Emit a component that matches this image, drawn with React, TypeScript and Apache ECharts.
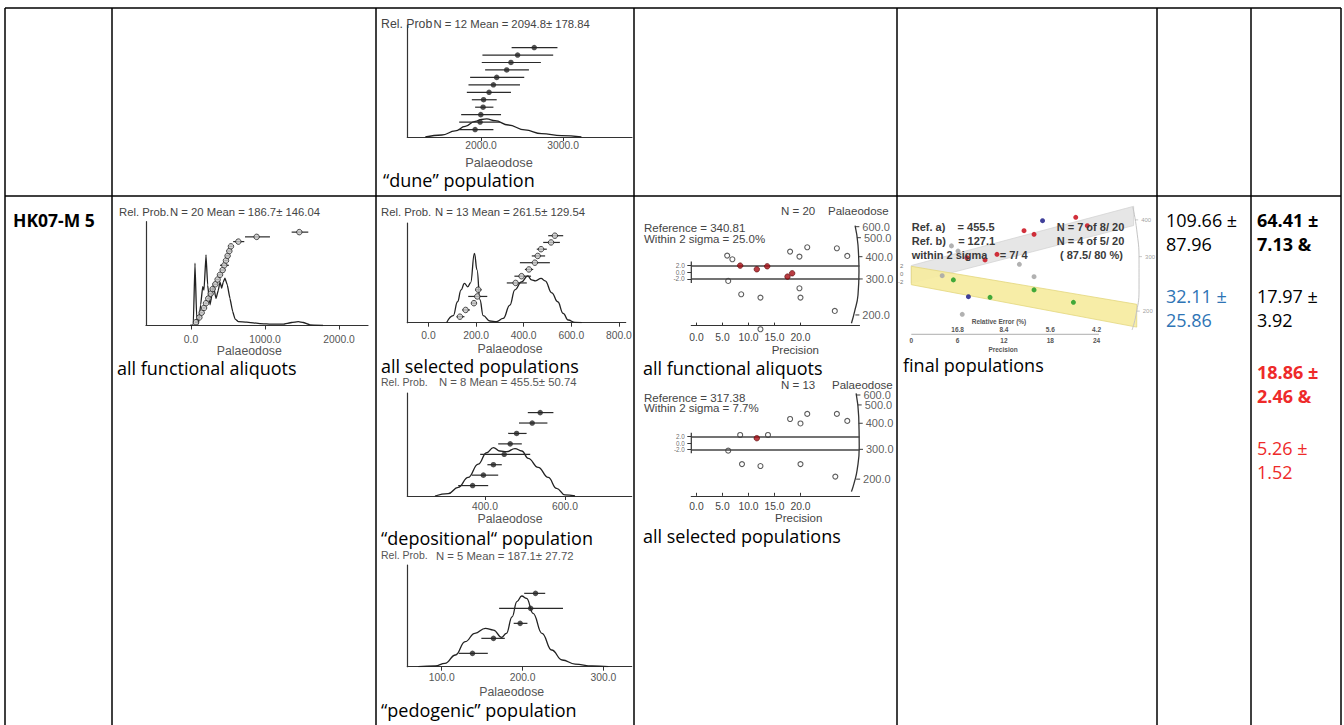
import React, { useEffect, useRef } from "react";
import * as echarts from "echarts";

const SANS = '"Liberation Sans", Arial, Helvetica, sans-serif';
const BODY = '"Open Sans", "Noto Sans", sans-serif';

// ===== A: "dune" population (N = 12) =====
const duneKdeDose = [1320, 1522, 1684, 1806, 1927, 2008, 2069, 2170, 2332, 2534, 2737, 2980, 3223];
const duneKdeProb = [0, 0.018, 0.054, 0.095, 0.14, 0.158, 0.161, 0.146, 0.107, 0.063, 0.03, 0.012, 0];
const duneDose = [1927, 1988, 1996, 2024, 2030, 2097, 2150, 2190, 2312, 2364, 2445, 2648];
const duneLow = [1725, 1733, 1757, 1927, 1887, 1826, 1846, 1866, 2049, 2008, 2016, 2372];
const duneHigh = [2150, 2231, 2243, 2150, 2190, 2364, 2474, 2526, 2583, 2729, 2879, 2931];
const duneTicks = [2000, 3000];

// ===== B: all functional aliquots (N = 20) =====
const funcKdeDose = [-13, 31, 54, 77, 99, 131, 158, 176, 203, 225, 257, 279, 302, 338, 369, 392, 414, 437, 459, 491, 527, 563, 594, 640, 752, 932, 1112, 1247, 1360, 1450, 1517, 1608, 1784];
const funcKdeProb = [0, 0.006, 0.6, 0.07, 0.013, 0.2, 0.375, 0.34, 0.68, 0.39, 0.2, 0.28, 0.39, 0.26, 0.34, 0.42, 0.36, 0.42, 0.455, 0.39, 0.26, 0.135, 0.064, 0.038, 0.032, 0.019, 0.013, 0.013, 0.029, 0.038, 0.029, 0.006, 0];
const funcDose = [68, 113, 144, 176, 203, 234, 266, 293, 329, 360, 392, 428, 450, 473, 495, 518, 540, 640, 887, 1464];
const funcLow = [52, 98, 128, 158, 185, 214, 246, 271, 306, 336, 367, 403, 392, 450, 472, 494, 516, 570, 730, 1360];
const funcHigh = [84, 128, 160, 194, 221, 254, 286, 315, 352, 384, 417, 453, 512, 496, 518, 542, 564, 720, 1067, 1585];
const funcTicks = [0, 1000, 2000];

// ===== C: all selected populations (N = 13) =====
const selKdeDose = [76, 104, 122, 137, 151, 165, 177, 193, 204, 216, 230, 258, 286, 314, 342, 363, 391, 417, 433, 450, 473, 490, 518, 543, 566, 587, 615, 644];
const selKdeProb = [0, 0.07, 0.21, 0.33, 0.395, 0.36, 0.4, 0.696, 0.53, 0.23, 0.07, 0.017, 0.01, 0.043, 0.177, 0.33, 0.41, 0.47, 0.43, 0.42, 0.445, 0.42, 0.3, 0.21, 0.094, 0.027, 0.003, 0];
const selDose = [132, 156, 191, 205, 209, 366, 391, 422, 447, 459, 473, 515, 531];
const selLow = [118, 142, 181, 167, 198, 329, 361, 405, 384, 434, 455, 482, 503];
const selHigh = [151, 174, 201, 247, 223, 413, 431, 440, 510, 490, 497, 552, 566];
const selTicks = [0, 200, 400, 600, 800];

// ===== D: "depositional" population (N = 8) =====
const depKdeDose = [275, 308, 333, 358, 383, 404, 421, 437, 454, 475, 492, 508, 533, 558, 579, 600, 625];
const depKdeProb = [0, 0.023, 0.084, 0.18, 0.31, 0.42, 0.47, 0.437, 0.43, 0.46, 0.437, 0.366, 0.278, 0.18, 0.074, 0.01, 0];
const depDose = [369, 396, 421, 448, 463, 479, 518, 538];
const depLow = [333, 367, 406, 388, 433, 458, 485, 507];
const depHigh = [408, 433, 442, 513, 492, 504, 556, 571];
const depTicks = [400, 600];

// ===== E: "pedogenic" population (N = 5) =====
const pedKdeDose = [71, 92, 104, 117, 129, 141, 154, 164, 174, 180, 187, 193, 199, 205, 213, 224, 236, 249, 265, 286, 306];
const pedKdeProb = [0, 0.007, 0.033, 0.115, 0.246, 0.328, 0.377, 0.36, 0.289, 0.328, 0.49, 0.64, 0.695, 0.672, 0.525, 0.328, 0.164, 0.066, 0.026, 0.007, 0];
const pedDose = [138, 164, 197, 210, 216];
const pedLow = [121, 149, 189, 171, 202];
const pedHigh = [157, 178, 206, 250, 228];
const pedTicks = [100, 200, 300];

// ===== F: radial plot, all functional aliquots (precision, standardised estimate) =====
const rad1OpenX = [5.9, 6.9, 18.0, 19.8, 21.3, 27.0, 29.0, 6.1, 8.6, 12.3, 19.8, 20.0, 26.6, 12.3];
const rad1OpenY = [5.0, 3.9, 6.2, 4.7, 7.5, 7.2, 4.9, -2.6, -6.6, -7.6, -4.8, -7.6, -11.6, -17.1];
const rad1RedX = [8.4, 11.6, 13.6, 17.5, 18.4];
const rad1RedY = [2.0, 0.9, 1.8, -1.3, -0.3];
const rad1ArcX = [30.5, 31.06, 31.25, 31.06, 30.4, 29.8];
const rad1ArcY = [14.0, 8.2, 0.2, -6.8, -11.8, -15.3];
const rad1ArcLabels = ["600.0", "500.0", "400.0", "300.0", "200.0"];
const rad1ArcTickX = [30.55, 30.85, 31.15, 31.2, 30.55];
const rad1ArcTickY = [13.7, 10.4, 4.7, -2.0, -12.8];

// ===== G: radial plot, all selected populations =====
const rad2OpenX = [8.4, 13.75, 18.0, 20.0, 21.3, 27.0, 29.0, 6.1, 8.75, 12.3, 20.0, 26.7];
const rad2OpenY = [2.5, 2.5, 7.5, 6.1, 9.1, 9.1, 6.9, -2.4, -6.6, -7.2, -6.6, -10.5];
const rad2RedX = [11.6];
const rad2RedY = [1.5];
const rad2ArcX = [30.7, 31.2, 31.3, 30.9, 30.3, 29.8];
const rad2ArcY = [15.5, 8.2, -1.2, -8.4, -12.6, -15.2];
const rad2ArcLabels = ["600.0", "500.0", "400.0", "300.0", "200.0"];
const rad2ArcTickX = [30.75, 31.0, 31.2, 31.25, 30.7];
const rad2ArcTickY = [15.0, 11.9, 6.15, -2.0, -11.3];

const radTicks = [0, 5, 10, 15, 20];
const radBand = [-2, 0, 2];
const radAxisSpan = [3.2, -3.2];

// ===== H: final populations radial plot =====
const finRedX = [21.3, 22.8, 14.6, 15.9, 11.1, 9.55, 7.2];
const finRedY = [14.25, 12.15, 10.9, 10.0, 5.0, 3.6, 4.15];
const finBlueX = [17.0, 7.4];
const finBlueY = [13.4, -5.6];
const finGreenX = [5.45, 10.2, 15.9, 21.0];
const finGreenY = [-1.4, -5.75, -3.9, -7.0];
const finGrayX = [5.2, 6.05, 4.0, 14.0, 15.9, 6.6];
const finGrayY = [7.1, 5.8, -0.35, 2.5, -0.6, -10.0];
const finGrayBandX = [0, 28.8, 28.8, 0];
const finGrayBandY = [2.2, 17.0, 12.2, -2.2];
const finYellowBandX = [0, 29.2, 29.2, 0];
const finYellowBandY = [2.0, -7.5, -13.2, -2.6];
const finArcX = [28.7, 29.2, 29.5, 29.5, 29.1, 28.6];
const finArcY = [16.8, 11.1, 3.6, -3.9, -10.2, -13.9];
const finArcLabels = ["400", "300", "200"];
const finArcTickX = [29.0, 29.5, 29.2];
const finArcTickY = [13.6, 4.4, -9.2];
const finPrecisionTicks = [0, 6, 12, 18, 24];
const finRelErrTicks = [6, 12, 18, 24];
const finRelErrLabels = ["16.8", "8.4", "5.6", "4.2"];
const finYTicks = [-2, 0, 2];
const finAxisSpan = [0, 24.3];

// ===== layout (pixel boxes of the small plots) =====
const kdeLayout = [
  { left: 407.3, top: 25, width: 224.7, height: 112, xMin: 1100, xMax: 3840, rMin: 0, rMax: 15.03, margin: 3.5, ticks: duneTicks },
  { left: 146, top: 221.7, width: 222, height: 103.8, xMin: -608, xMax: 2392, rMin: 0.3, rMax: 22.2, margin: 8.5, ticks: funcTicks },
  { left: 407.3, top: 223, width: 218.4, height: 99.7, xMin: -89, xMax: 828.6, rMin: 0.11, rMax: 14.88, margin: 8, ticks: selTicks },
  { left: 407.3, top: 393, width: 224.4, height: 103, xMin: 205.8, xMax: 766.7, rMin: 0, rMax: 9.88, margin: 5, ticks: depTicks },
  { left: 407.3, top: 565, width: 224.4, height: 101.7, xMin: 57.4, xMax: 335, rMin: 0.11, rMax: 6.89, margin: 5.5, ticks: pedTicks },
];

function kdeSeries(i: number, kx: number[], ky: number[], dose: number[], low: number[], high: number[], open: boolean) {
  const yk = 2 * i;
  const yr = 2 * i + 1;
  return [
    {
      type: "line", xAxisIndex: i, yAxisIndex: yk, silent: true, z: 2,
      data: kx.map((x, j) => [x, ky[j]]),
      smooth: i === 1 ? 0.1 : 0.45, smoothMonotone: "x", symbol: "none",
      lineStyle: { color: "#222", width: 1.3 },
    },
    {
      type: "custom", xAxisIndex: i, yAxisIndex: yr, silent: true, z: 3,
      data: dose.map((d, j) => [low[j], high[j], j + 1, d]),
      encode: { x: [0, 1], y: 2 },
      renderItem: (_p: any, api: any) => {
        const a = api.coord([api.value(0), api.value(2)]);
        const b = api.coord([api.value(1), api.value(2)]);
        return { type: "line", shape: { x1: a[0], y1: a[1], x2: b[0], y2: b[1] }, style: { stroke: "#2a2a2a", lineWidth: 1.2 } };
      },
    },
    {
      type: "scatter", xAxisIndex: i, yAxisIndex: yr, silent: true, z: 4,
      data: dose.map((d, j) => [d, j + 1]),
      symbol: "circle", symbolSize: 5.5,
      itemStyle: open ? { color: "#c8c8c8", borderColor: "#222", borderWidth: 1 } : { color: "#262626" },
    },
  ];
}

function radialSeries(xi: number, yi: number, xMin: number, bandFont: number, openX: number[], openY: number[], redX: number[], redY: number[], arcX: number[], arcY: number[], labels: string[], tX: number[], tY: number[]) {
  return [
    {
      type: "line", xAxisIndex: xi, yAxisIndex: yi, silent: true, clip: false, z: 2,
      data: radAxisSpan.map((v) => [xMin, v]), symbol: "none",
      lineStyle: { color: "#333", width: 1.2 },
      markLine: {
        silent: true, symbol: ["none", "none"], label: { show: false },
        lineStyle: { color: "#444", width: 1.6, type: "solid" },
        data: [{ yAxis: radBand[2] }, { yAxis: radBand[0] }],
      },
    },
    {
      // standardised-estimate tick labels
      type: "scatter", xAxisIndex: xi, yAxisIndex: yi, silent: true, clip: false, z: 3,
      data: radBand.map((v) => ({ name: v.toFixed(1), value: [xMin, v] })),
      symbol: "rect", symbolSize: 1,
      itemStyle: { color: "rgba(0,0,0,0)" },
      label: { show: true, position: "left", distance: 6, formatter: "{b}", fontSize: bandFont, lineHeight: bandFont, fontFamily: SANS, color: "#444" },
      labelLayout: { hideOverlap: false },
    },
    {
      type: "line", xAxisIndex: xi, yAxisIndex: yi, silent: true, clip: false, z: 2,
      data: arcX.map((x, j) => [x, arcY[j]]), smooth: 0.5, symbol: "none",
      lineStyle: { color: "#333", width: 1.3 },
    },
    {
      type: "scatter", xAxisIndex: xi, yAxisIndex: yi, silent: true, clip: false, z: 3,
      data: labels.map((n, j) => ({ name: n, value: [tX[j], tY[j]] })),
      symbol: "rect", symbolSize: [4, 1.2], symbolOffset: [2, 0],
      itemStyle: { color: "#333" },
      label: { show: true, position: "right", distance: 3, formatter: "{b}", fontSize: 11, fontFamily: SANS, color: "#333" },
    },
    {
      type: "scatter", xAxisIndex: xi, yAxisIndex: yi, silent: true, clip: false, z: 4,
      data: openX.map((x, j) => [x, openY[j]]), symbol: "circle", symbolSize: 5,
      itemStyle: { color: "#fff", borderColor: "#333", borderWidth: 1.1 },
    },
    {
      type: "scatter", xAxisIndex: xi, yAxisIndex: yi, silent: true, clip: false, z: 5,
      data: redX.map((x, j) => [x, redY[j]]), symbol: "circle", symbolSize: 5.5,
      itemStyle: { color: "#a80c14", borderColor: "#5a0a0a", borderWidth: 0.8 },
    },
  ];
}

function bandSeries(bx: number[], by: number[], fill: string, stroke: string, z: number) {
  return {
    type: "custom", xAxisIndex: 7, yAxisIndex: 12, silent: true, z,
    data: [[bx[0], by[0]]],
    renderItem: (_p: any, api: any) => ({
      type: "polygon",
      shape: { points: bx.map((x, j) => api.coord([x, by[j]])) },
      style: { fill, stroke, lineWidth: 0.8 },
    }),
  };
}

function finDots(xs: number[], ys: number[], color: string) {
  return {
    type: "scatter", xAxisIndex: 7, yAxisIndex: 12, silent: true, clip: false, z: 6,
    data: xs.map((x, j) => [x, ys[j]]), symbol: "circle", symbolSize: 5,
    itemStyle: { color, opacity: 0.9 },
  };
}

function buildOption() {
  const grids: any[] = kdeLayout.map((l) => ({ left: l.left, top: l.top, width: l.width, height: l.height, outerBoundsMode: "none", containLabel: false }));
  grids.push({ left: 691.3, top: 222.3, width: 168.2, height: 103.3, outerBoundsMode: "none", containLabel: false });
  grids.push({ left: 691.3, top: 393.4, width: 168.2, height: 102.4, outerBoundsMode: "none", containLabel: false });
  grids.push({ left: 911.3, top: 202.3, width: 231.6, height: 132, outerBoundsMode: "none", containLabel: false });

  const xAxes: any[] = kdeLayout.map((l, i) => ({
    type: "value", gridIndex: i, min: l.xMin, max: l.xMax, splitLine: { show: false },
    axisLine: { show: true, onZero: false, lineStyle: { color: "#333", width: 1.2 } },
    axisTick: { show: true, customValues: l.ticks, length: 4, lineStyle: { color: "#333" } },
    axisLabel: { show: true, customValues: l.ticks, formatter: (v: number) => v.toFixed(1), margin: l.margin, fontSize: 10.3, fontFamily: SANS, color: "#555" },
  }));
  const radX = (g: number, margin: number) => ({
    type: "value", gridIndex: g, min: -1, max: 31.35, splitLine: { show: false },
    axisLine: { show: true, onZero: false, lineStyle: { color: "#333", width: 1.2 } },
    axisTick: { show: true, inside: true, customValues: radTicks, length: 3, lineStyle: { color: "#333" } },
    axisLabel: { show: true, customValues: radTicks, formatter: (v: number) => v.toFixed(1), margin, fontSize: 10.3, fontFamily: SANS, color: "#444" },
  });
  xAxes.push(radX(5, 6.5));
  xAxes.push(radX(6, 5.5));
  xAxes.push({
    type: "value", gridIndex: 7, min: 0, max: 30, position: "bottom", splitLine: { show: false },
    axisLine: { show: false, onZero: false }, axisTick: { show: false },
    axisLabel: { show: true, customValues: finPrecisionTicks, margin: 3, fontSize: 6.5, fontWeight: "bold", fontFamily: SANS, color: "#555" },
  });
  xAxes.push({
    type: "value", gridIndex: 7, min: 0, max: 30, position: "bottom", splitLine: { show: false },
    axisLine: { show: false, onZero: false }, axisTick: { show: false },
    axisLabel: { show: true, inside: true, customValues: finRelErrTicks, margin: 1, fontSize: 6.5, fontWeight: "bold", fontFamily: SANS, color: "#555",
      formatter: (v: number) => finRelErrLabels[finRelErrTicks.indexOf(v)] || "" },
  });

  const yAxes: any[] = [];
  kdeLayout.forEach((l, i) => {
    yAxes.push({
      type: "value", gridIndex: i, min: 0, max: 1, splitLine: { show: false },
      axisLine: { show: true, onZero: false, lineStyle: { color: "#333", width: 1.2 } },
      axisTick: { show: false }, axisLabel: { show: false },
    });
    yAxes.push({ type: "value", gridIndex: i, min: l.rMin, max: l.rMax, show: false, axisLine: { onZero: false }, splitLine: { show: false } });
  });
  const radY = (g: number, mn: number, mx: number) => ({
    type: "value", gridIndex: g, min: mn, max: mx, splitLine: { show: false },
    axisLine: { show: false, onZero: false },
    axisTick: { show: true, customValues: radBand, length: 4, lineStyle: { color: "#333" } },
    axisLabel: { show: false },
  });
  yAxes.push(radY(5, -16, 15));
  yAxes.push(radY(6, -16.5, 15.5));
  yAxes.push({
    type: "value", gridIndex: 7, min: -15, max: 18, splitLine: { show: false },
    axisLine: { show: false, onZero: false }, axisTick: { show: false },
    axisLabel: { show: true, customValues: finYTicks, margin: 8, fontSize: 6, fontFamily: SANS, color: "#777" },
  });

  const series: any[] = [
    ...kdeSeries(0, duneKdeDose, duneKdeProb, duneDose, duneLow, duneHigh, false),
    ...kdeSeries(1, funcKdeDose, funcKdeProb, funcDose, funcLow, funcHigh, true),
    ...kdeSeries(2, selKdeDose, selKdeProb, selDose, selLow, selHigh, true),
    ...kdeSeries(3, depKdeDose, depKdeProb, depDose, depLow, depHigh, false),
    ...kdeSeries(4, pedKdeDose, pedKdeProb, pedDose, pedLow, pedHigh, false),
    ...radialSeries(5, 10, -1, 6.6, rad1OpenX, rad1OpenY, rad1RedX, rad1RedY, rad1ArcX, rad1ArcY, rad1ArcLabels, rad1ArcTickX, rad1ArcTickY),
    ...radialSeries(6, 11, -1, 6.3, rad2OpenX, rad2OpenY, rad2RedX, rad2RedY, rad2ArcX, rad2ArcY, rad2ArcLabels, rad2ArcTickX, rad2ArcTickY),
    bandSeries(finGrayBandX, finGrayBandY, "#e6e6e6", "#d4d4d4", 1),
    bandSeries(finYellowBandX, finYellowBandY, "rgba(246,236,160,0.92)", "#e3d77e", 2),
    {
      type: "line", xAxisIndex: 7, yAxisIndex: 12, silent: true, clip: false, z: 3,
      data: finArcX.map((x, j) => [x, finArcY[j]]), smooth: 0.5, symbol: "none",
      lineStyle: { color: "#c4c4c4", width: 1 },
    },
    {
      type: "scatter", xAxisIndex: 7, yAxisIndex: 12, silent: true, clip: false, z: 3,
      data: finArcLabels.map((n, j) => ({ name: n, value: [finArcTickX[j], finArcTickY[j]] })),
      symbol: "rect", symbolSize: [3, 0.8], symbolOffset: [1.5, 0], itemStyle: { color: "#aaa" },
      label: { show: true, position: "right", distance: 3, formatter: "{b}", fontSize: 6, fontFamily: SANS, color: "#888" },
    },
    {
      type: "line", xAxisIndex: 7, yAxisIndex: 12, silent: true, clip: false, z: 3,
      data: finAxisSpan.map((x) => [x, -15]), symbol: "none",
      lineStyle: { color: "#999", width: 0.8 },
    },
    finDots(finGrayX, finGrayY, "#a9a9a9"),
    finDots(finGreenX, finGreenY, "#2ca02c"),
    finDots(finBlueX, finBlueY, "#2b2b8f"),
    finDots(finRedX, finRedY, "#cc1a26"),
  ];

  const line = (x1: number, y1: number, x2: number, y2: number) => ({
    type: "line", shape: { x1, y1, x2, y2 }, style: { stroke: "#000", lineWidth: 1.5 }, silent: true, z: 50,
  });
  const txt = (text: string, x: number, y: number, font: string, fill = "#000", align = "left") => ({
    type: "text", x, y, silent: true, z: 60,
    style: { text, font, fill, textAlign: align, textVerticalAlign: "middle", align, verticalAlign: "middle" },
  });
  const f11 = `11.3px ${SANS}`;
  const fPal = `12.3px ${SANS}`;
  const fCap = `18px ${BODY}`;
  const fRad = `11.5px ${SANS}`;
  const fFin = `bold 11px ${SANS}`;

  const graphic: any[] = [
    // table frame
    line(5, 8, 1341, 8), line(5, 196, 1341, 196),
    line(5, 8, 5, 725), line(112, 8, 112, 725), line(376, 8, 376, 725), line(634, 8, 634, 725),
    line(897, 8, 897, 725), line(1157, 8, 1157, 725), line(1251, 8, 1251, 725), line(1341, 8, 1341, 725),
    // A
    txt("Rel. Prob", 381, 24, `12.3px ${SANS}`, "#444"),
    txt("N = 12 Mean = 2094.8± 178.84", 433.5, 24, f11, "#444"),
    txt("Palaeodose", 499, 162, `12.8px ${SANS}`, "#555", "center"),
    txt("\u201cdune\u201d population", 383, 179.5, fCap),
    // row label
    txt("HK07-M 5", 13, 220, `bold 17.5px ${BODY}`),
    // B
    txt("Rel. Prob.", 119, 211.7, f11, "#444"),
    txt("N = 20 Mean = 186.7± 146.04", 170, 211.7, f11, "#444"),
    txt("Palaeodose", 249.3, 351, fPal, "#555", "center"),
    txt("all functional aliquots", 117, 368, fCap),
    // C
    txt("Rel. Prob.", 381, 211.7, f11, "#444"),
    txt("N = 13 Mean = 261.5± 129.54", 435, 211.7, f11, "#444"),
    txt("Palaeodose", 510, 349, fPal, "#555", "center"),
    txt("all selected populations", 381, 365.5, fCap),
    // D
    txt("Rel. Prob.", 381, 381.5, `10.5px ${SANS}`, "#555"),
    txt("N = 8 Mean = 455.5± 50.74", 439, 382, f11, "#555"),
    txt("Palaeodose", 510, 519, fPal, "#555", "center"),
    txt("\u201cdepositional\u201c population", 381, 537.5, fCap),
    // E
    txt("Rel. Prob.", 381, 555, `10.5px ${SANS}`, "#555"),
    txt("N = 5 Mean = 187.1± 27.72", 436, 555.5, f11, "#555"),
    txt("Palaeodose", 511.7, 692, fPal, "#555", "center"),
    txt("\u201cpedogenic\u201d population", 381, 709.5, fCap),
    // F
    txt("N = 20", 781, 211, fRad, "#444"),
    txt("Palaeodose", 828, 211, fRad, "#444"),
    txt("Reference = 340.81", 644, 228.3, fRad, "#444"),
    txt("Within 2 sigma = 25.0%", 644, 238.5, fRad, "#444"),
    txt("Precision", 795.3, 349.5, fRad, "#444", "center"),
    txt("all functional aliquots", 643, 367.5, fCap),
    // G
    txt("N = 13", 781, 384.5, fRad, "#444"),
    txt("Palaeodose", 832, 384.5, fRad, "#444"),
    txt("Reference = 317.38", 644, 397.8, fRad, "#444"),
    txt("Within 2 sigma = 7.7%", 644, 408, fRad, "#444"),
    txt("Precision", 798.7, 518, fRad, "#444", "center"),
    txt("all selected populations", 643, 536, fCap),
    // H
    txt("Ref. a)    = 455.5", 911.7, 226.7, fFin, "#3a3a3a"),
    txt("Ref. b)    = 127.1", 911.7, 241, fFin, "#3a3a3a"),
    txt("within 2 sigma    = 7/ 4", 911.7, 255, fFin, "#3a3a3a"),
    txt("N = 7 of 8/ 20", 1056.7, 226.7, fFin, "#3a3a3a"),
    txt("N = 4 of 5/ 20", 1056.7, 241, fFin, "#3a3a3a"),
    txt("( 87.5/ 80 %)", 1060, 255, fFin, "#3a3a3a"),
    txt("Relative Error (%)", 999, 321, `bold 6.5px ${SANS}`, "#555", "center"),
    txt("Precision", 1003, 349, `bold 6.5px ${SANS}`, "#555", "center"),
    txt("final populations", 903, 365, fCap),
    // right columns
    txt("109.66 \u00b1", 1166, 220, fCap),
    txt("87.96", 1166, 244.3, fCap),
    txt("32.11 \u00b1", 1166, 295.7, fCap, "#2e74b5"),
    txt("25.86", 1166, 320, fCap, "#2e74b5"),
    txt("64.41 \u00b1", 1257, 220, `bold 18px ${BODY}`),
    txt("7.13 &", 1257, 244.3, `bold 18px ${BODY}`),
    txt("17.97 \u00b1", 1257, 296, fCap),
    txt("3.92", 1257, 320, fCap),
    txt("18.86 \u00b1", 1257, 371.7, `bold 18px ${BODY}`, "#ee2a2a"),
    txt("2.46 &", 1257, 396, `bold 18px ${BODY}`, "#ee2a2a"),
    txt("5.26 \u00b1", 1257, 448, fCap, "#ee2a2a"),
    txt("1.52", 1257, 471.7, fCap, "#ee2a2a"),
  ];

  return {
    animation: false,
    backgroundColor: "#fff",
    grid: grids,
    xAxis: xAxes,
    yAxis: yAxes,
    series,
    graphic,
  };
}

export default function App() {
  const ref = useRef<HTMLDivElement>(null);
  useEffect(() => {
    const chart = echarts.init(ref.current as HTMLDivElement, undefined, { renderer: "svg", width: 1344, height: 725 });
    chart.setOption(buildOption() as any);
    return () => chart.dispose();
  }, []);
  return <div ref={ref} style={{ position: "absolute", left: 0, top: 0, width: 1344, height: 725, background: "#fff" }} />;
}
